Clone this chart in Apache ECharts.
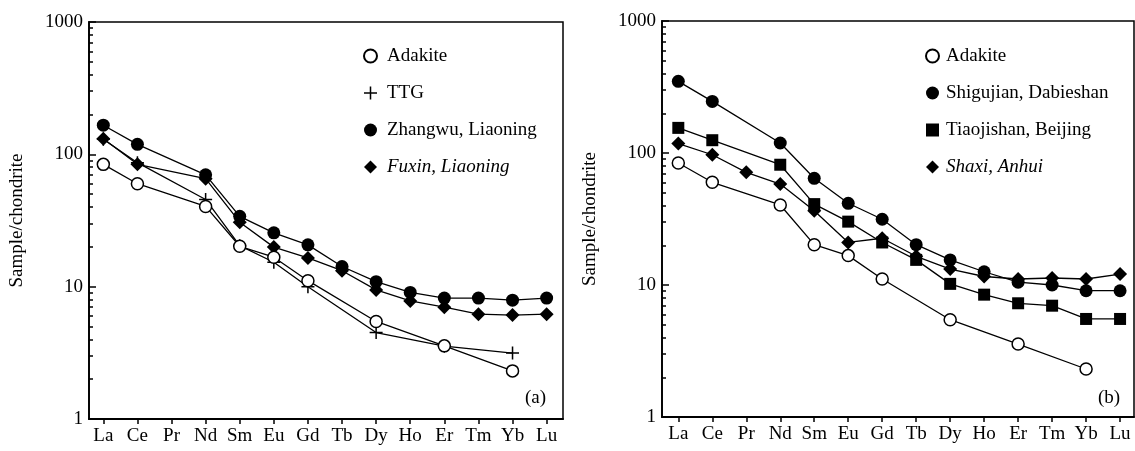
<!DOCTYPE html>
<html>
<head>
<meta charset="utf-8">
<script src="https://cdn.jsdelivr.net/npm/echarts@6/dist/echarts.min.js"></script>
<style>
  html, body { margin: 0; padding: 0; background: #fff; }
  #main { width: 1135px; height: 451px; }
</style>
</head>
<body>
<div id="main"></div>
<script>
// REE elements on the x axis
var elements = ['La', 'Ce', 'Pr', 'Nd', 'Sm', 'Eu', 'Gd', 'Tb', 'Dy', 'Ho', 'Er', 'Tm', 'Yb', 'Lu'];
var yMajor = [1, 10, 100, 1000];
var yMinor = [2, 3, 4, 5, 6, 7, 8, 9, 20, 30, 40, 50, 60, 70, 80, 90, 200, 300, 400, 500, 600, 700, 800, 900];

// (a) panel
var adakite = [84, 60, null, 40.4, 20.2, 16.7, 11.1, null, 5.46, null, 3.57, null, 2.31, null];
var ttg = [130, 86.5, null, 45.6, 20.4, 15.3, 10.0, null, 4.5, null, 3.55, null, 3.15, null];
var zhangwu = [166, 119, null, 70, 34, 25.5, 20.7, 14.2, 10.9, 9.05, 8.2, 8.2, 7.9, 8.2];
var fuxin = [131, 84, null, 65.5, 30.7, 19.9, 16.5, 13.2, 9.45, 7.8, 7.0, 6.2, 6.1, 6.2];

// (b) panel
var shigujian = [349, 246, null, 119, 64.3, 41.6, 31.5, 20.2, 15.5, 12.6, 10.5, 10.0, 9.05, 9.05];
var tiaojishan = [155, 125, null, 81.5, 41, 30.2, 21, 15.5, 10.2, 8.45, 7.27, 6.97, 5.53, 5.53];
var shaxi = [118, 97, 71.4, 58.2, 36.5, 21, 22.6, 16.5, 13.2, 11.6, 11.1, 11.3, 11.1, 12.1];

var FONT = 'Liberation Serif';
var plusPath = 'path://M5.3,0H6.7V5.3H12V6.7H6.7V12H5.3V6.7H0V5.3H5.3Z';

function pts(arr) {
  var out = [];
  arr.forEach(function (v, i) { if (v != null) out.push([i, v]); });
  return out;
}

function xAxisOf(grid, min, max) {
  var idx = elements.map(function (e, i) { return i; });
  return {
    type: 'value', gridIndex: grid, min: min, max: max,
    axisLine: { onZero: false, lineStyle: { color: '#000', width: 1.8 } },
    axisTick: { show: true, inside: false, length: 5, customValues: idx, lineStyle: { color: '#000', width: 1.5 } },
    axisLabel: {
      customValues: idx, margin: 8, color: '#000', fontFamily: FONT, fontSize: 19,
      formatter: function (v) { return elements[Math.round(v)]; }
    },
    splitLine: { show: false }
  };
}

function yAxesOf(grid) {
  return [{
    type: 'log', logBase: 10, gridIndex: grid, min: 1, max: 1000, position: 'left',
    name: 'Sample/chondrite', nameLocation: 'middle', nameGap: 62,
    nameTextStyle: { color: '#000', fontFamily: FONT, fontSize: 19 },
    axisLine: { show: true, onZero: false, lineStyle: { color: '#000', width: 1.8 } },
    axisTick: { show: true, inside: true, length: 7, customValues: yMajor, lineStyle: { color: '#000', width: 1.5 } },
    axisLabel: { customValues: yMajor, margin: 6, color: '#000', fontFamily: FONT, fontSize: 19,
      formatter: function (v) { return String(Math.round(v)); } },
    splitLine: { show: false }
  }, {
    type: 'log', logBase: 10, gridIndex: grid, min: 1, max: 1000, position: 'left', offset: 0,
    axisLine: { show: false, onZero: false },
    axisTick: { show: true, inside: true, length: 4, customValues: yMinor, lineStyle: { color: '#000', width: 1.5 } },
    axisLabel: { show: false },
    splitLine: { show: false }
  }];
}

function line(name, data, x, y, symbol, size, style) {
  return {
    name: name, type: 'line', xAxisIndex: x, yAxisIndex: y,
    data: pts(data), symbol: symbol, symbolSize: size,
    lineStyle: { color: '#000', width: 1.3 },
    itemStyle: style,
    animation: false
  };
}

var openStyle = { color: '#fff', borderColor: '#000', borderWidth: 1.5 };
var fillStyle = { color: '#000', borderColor: '#000', borderWidth: 0 };

function legendOf(left, pad, italicName, items) {
  return {
    orient: 'vertical', left: left, top: 41, itemGap: 17, itemWidth: 13, itemHeight: 13,
    textStyle: { color: '#000', fontFamily: FONT, fontSize: 19, lineHeight: 20, padding: [0, 0, 0, pad],
      rich: { i: { fontStyle: 'italic', fontFamily: FONT, fontSize: 19, color: '#000' } } },
    formatter: function (n) { return n === italicName ? '{i|' + n + '}' : n; },
    data: items
  };
}

var chart = echarts.init(document.getElementById('main'));
chart.setOption({
  backgroundColor: '#fff',
  animation: false,
  grid: [
    { left: 89, top: 22, width: 474, height: 397, show: true, borderColor: '#000', borderWidth: 1.5 },
    { left: 662, top: 21, width: 472, height: 396, show: true, borderColor: '#000', borderWidth: 1.5 }
  ],
  xAxis: [xAxisOf(0, -0.42, 13.48), xAxisOf(1, -0.48, 13.41)],
  yAxis: yAxesOf(0).concat(yAxesOf(1)),
  legend: [
    legendOf(358, 5, 'Fuxin, Liaoning', [
      { name: 'Adakite', icon: 'circle' },
      { name: 'TTG', icon: plusPath },
      { name: 'Zhangwu, Liaoning', icon: 'circle' },
      { name: 'Fuxin, Liaoning', icon: 'diamond' }
    ]),
    legendOf(920, 2, 'Shaxi, Anhui', [
      { name: 'Adakite', icon: 'circle' },
      { name: 'Shigujian, Dabieshan', icon: 'circle' },
      { name: 'Tiaojishan, Beijing', icon: 'rect' },
      { name: 'Shaxi, Anhui', icon: 'diamond' }
    ])
  ],
  graphic: [
    { type: 'text', left: 525, top: 389, style: { text: '(a)', font: '19px "Liberation Serif"', fill: '#000' } },
    { type: 'text', left: 1098, top: 389, style: { text: '(b)', font: '19px "Liberation Serif"', fill: '#000' } }
  ],
  series: [
    line('TTG', ttg, 0, 0, plusPath, 13, { color: '#000', borderWidth: 0 }),
    line('Fuxin, Liaoning', fuxin, 0, 0, 'diamond', 14, fillStyle),
    line('Zhangwu, Liaoning', zhangwu, 0, 0, 'circle', 13, fillStyle),
    line('Adakite', adakite, 0, 0, 'circle', 12, openStyle),
    line('Shaxi, Anhui', shaxi, 1, 2, 'diamond', 14, fillStyle),
    line('Tiaojishan, Beijing', tiaojishan, 1, 2, 'rect', 12, fillStyle),
    line('Shigujian, Dabieshan', shigujian, 1, 2, 'circle', 13, fillStyle),
    line('Adakite', adakite, 1, 2, 'circle', 12, openStyle)
  ]
});
</script>
</body>
</html>
